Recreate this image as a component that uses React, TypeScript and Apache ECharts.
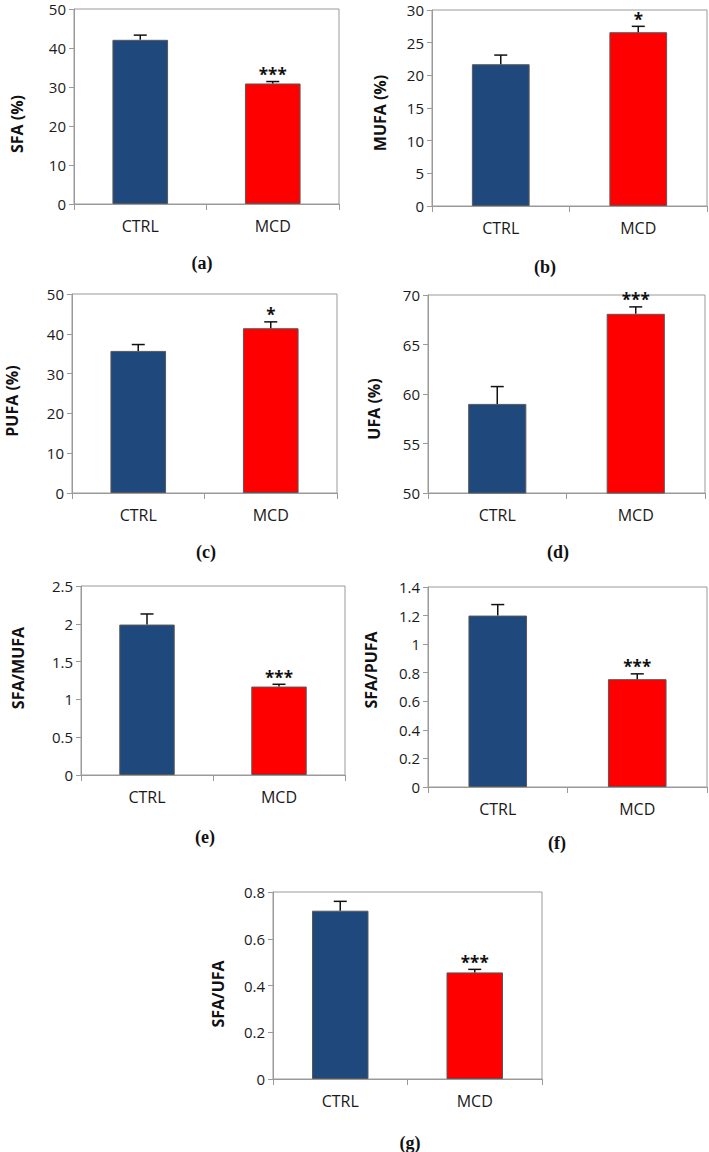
import React, { useEffect, useRef } from "react";
import * as echarts from "echarts";

// ---- data ----
const categories = ["CTRL", "MCD"];
const axisNames = ["SFA (%)", "MUFA (%)", "PUFA (%)", "UFA (%)", "SFA/MUFA", "SFA/PUFA", "SFA/UFA"];
const panelLabels = ["(a)", "(b)", "(c)", "(d)", "(e)", "(f)", "(g)"];
const ctrlMeans = [42.1, 21.7, 35.7, 59.0, 1.99, 1.2, 0.72];
const ctrlErrors = [1.2, 1.4, 1.6, 1.75, 0.14, 0.077, 0.04];
const mcdMeans = [30.9, 26.6, 41.4, 68.1, 1.17, 0.755, 0.456];
const mcdErrors = [0.5, 0.9, 1.6, 0.7, 0.03, 0.037, 0.013];
const mcdSignificance = ["***", "*", "*", "***", "***", "***", "***"];
const yMins = [0, 0, 0, 50, 0, 0, 0];
const yMaxs = [50, 30, 50, 70, 2.5, 1.4, 0.8];
const yIntervals = [10, 5, 10, 5, 0.5, 0.2, 0.2];

// ---- layout (pixels) ----
const grids = [
  { left: 74, top: 9, width: 265, height: 195 },
  { left: 432, top: 10, width: 275, height: 196 },
  { left: 72, top: 294, width: 265, height: 199 },
  { left: 428, top: 295, width: 277, height: 198 },
  { left: 81, top: 586, width: 264, height: 189 },
  { left: 428, top: 587, width: 279, height: 200 },
  { left: 273, top: 892, width: 269, height: 187 },
];
const axisNamePos = [
  [17, 124], [380, 113], [12, 401], [374, 409], [18, 668], [371, 670], [218, 994],
];
const panelLabelPos = [
  [202, 263], [545, 267], [206, 552], [558, 552], [205, 837], [557, 843], [410, 1143],
];

const CTRL_COLOR = "#1F497D";
const MCD_COLOR = "#FF0000";
const AXIS_COLOR = "#9a9a9a";
const TEXT_COLOR = "#1a1a1a";

export default function App() {
  const ref = useRef<HTMLDivElement>(null);

  useEffect(() => {
    if (!ref.current) return;
    const chart = echarts.init(ref.current, null, { renderer: "svg" });

    const gridOpt: any[] = [];
    const xAxes: any[] = [];
    const yAxes: any[] = [];
    const series: any[] = [];
    const graphics: any[] = [];

    grids.forEach((g, p) => {
      gridOpt.push({
        left: g.left,
        top: g.top,
        width: g.width,
        height: g.height,
        show: true,
        borderColor: AXIS_COLOR,
        borderWidth: 1,
        containLabel: false,
      });
      xAxes.push({
        type: "category",
        gridIndex: p,
        data: categories,
        axisLine: { show: true, lineStyle: { color: AXIS_COLOR, width: 1 } },
        axisTick: { show: true, length: 6, alignWithLabel: false, lineStyle: { color: AXIS_COLOR } },
        axisLabel: { color: TEXT_COLOR, fontSize: 16, fontFamily: "Open Sans", margin: 14 },
        splitLine: { show: false },
      });
      yAxes.push({
        type: "value",
        gridIndex: p,
        min: yMins[p],
        max: yMaxs[p],
        interval: yIntervals[p],
        axisLine: { show: true, lineStyle: { color: AXIS_COLOR, width: 1 } },
        axisTick: { show: true, length: 5, lineStyle: { color: AXIS_COLOR } },
        axisLabel: { color: TEXT_COLOR, fontSize: 15, fontFamily: "Open Sans", margin: 8 },
        splitLine: { show: false },
      });
      series.push({
        type: "bar",
        xAxisIndex: p,
        yAxisIndex: p,
        barWidth: "42%",
        data: [
          { value: ctrlMeans[p], itemStyle: { color: CTRL_COLOR } },
          { value: mcdMeans[p], itemStyle: { color: MCD_COLOR } },
        ],
        itemStyle: { borderColor: "#595959", borderWidth: 1 },
        z: 2,
      });
      const sigs = ["", mcdSignificance[p]];
      series.push({
        type: "custom",
        xAxisIndex: p,
        yAxisIndex: p,
        z: 3,
        data: [
          [0, ctrlMeans[p], ctrlErrors[p]],
          [1, mcdMeans[p], mcdErrors[p]],
        ],
        renderItem: (params: any, api: any) => {
          const i = api.value(0);
          const m = api.value(1);
          const e = api.value(2);
          const base = api.coord([i, m]);
          const top = api.coord([i, m + e]);
          const half = 6.5;
          const children: any[] = [
            {
              type: "line",
              shape: { x1: base[0], y1: base[1], x2: top[0], y2: top[1] },
              style: { stroke: "#111", lineWidth: 1.5 },
            },
            {
              type: "line",
              shape: { x1: top[0] - half, y1: top[1], x2: top[0] + half, y2: top[1] },
              style: { stroke: "#111", lineWidth: 1.5 },
            },
          ];
          const s = sigs[params.dataIndex];
          if (s) {
            children.push({
              type: "text",
              x: top[0],
              y: top[1] - 7,
              style: {
                text: s,
                fill: "#111",
                font: "bold 17px 'Open Sans'",
                align: "center",
                verticalAlign: "middle",
              },
            });
          }
          return { type: "group", children };
        },
      });

      graphics.push({
        type: "text",
        x: axisNamePos[p][0],
        y: axisNamePos[p][1],
        rotation: Math.PI / 2,
        style: {
          text: axisNames[p],
          fill: "#111",
          font: "bold 16px 'Open Sans'",
          align: "center",
          verticalAlign: "middle",
        },
      });
      graphics.push({
        type: "text",
        x: panelLabelPos[p][0],
        y: panelLabelPos[p][1],
        style: {
          text: panelLabels[p],
          fill: "#111",
          font: "bold 18px 'Liberation Serif'",
          align: "center",
          verticalAlign: "middle",
        },
      });
    });

    chart.setOption({
      animation: false,
      backgroundColor: "#ffffff",
      grid: gridOpt,
      xAxis: xAxes,
      yAxis: yAxes,
      series,
      graphic: graphics,
    });

    return () => chart.dispose();
  }, []);

  return (
    <div
      ref={ref}
      style={{ position: "absolute", left: 0, top: 0, width: 709, height: 1152, background: "#fff" }}
    />
  );
}
